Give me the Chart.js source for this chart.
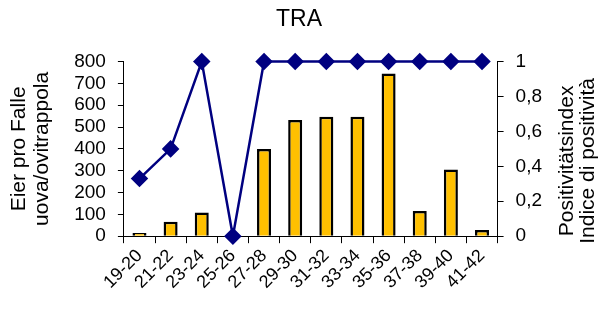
<!DOCTYPE html>
<html>
<head>
<meta charset="utf-8">
<script src="https://cdn.jsdelivr.net/npm/chart.js@4/dist/chart.umd.min.js"></script>
<style>
  html, body { margin: 0; padding: 0; background: #fff; }
  #wrap { width: 598px; height: 309px; }
</style>
</head>
<body>
<div id="wrap"><canvas id="chart"></canvas></div>
<script>
  // Zeitraum (Wochen) / periodo (settimane)
  const categories = ['19-20', '21-22', '23-24', '25-26', '27-28', '29-30',
                      '31-32', '33-34', '35-36', '37-38', '39-40', '41-42'];

  // Eier pro Falle (Balken, linke Achse)
  const eggsPerTrap = [15, 66, 109, 0, 400, 532, 547, 547, 746, 115, 306, 28];

  // Positivitätsindex (Linie, rechte Achse)
  const positivity = [0.33, 0.5, 1, 0, 1, 1, 1, 1, 1, 1, 1, 1];

  const leftTitle = ['Eier pro Falle', 'uova/ovitrappola'];
  const rightTitle = ['Positivitätsindex', 'Indice di positività'];

  const FONT = "'Liberation Sans', Arial, sans-serif";
  Chart.defaults.font.family = FONT;
  Chart.defaults.color = '#000';

  // Titel der rechten Achse von unten nach oben lesbar zeichnen
  const rightTitlePlugin = {
    id: 'rightTitle',
    afterDraw(chart) {
      const s = chart.scales.y1;
      const ctx = chart.ctx;
      const cy = (chart.chartArea.top + chart.chartArea.bottom) / 2 + 12;
      ctx.save();
      ctx.font = '21px ' + FONT;
      ctx.fillStyle = '#000';
      ctx.textAlign = 'center';
      ctx.textBaseline = 'middle';
      rightTitle.forEach((line, i) => {
        ctx.save();
        ctx.translate(s.left + 70 + i * 21, cy);
        ctx.rotate(-Math.PI / 2);
        ctx.fillText(line, 0, 0);
        ctx.restore();
      });
      ctx.restore();
    }
  };

  new Chart(document.getElementById('chart'), {
    type: 'bar',
    data: {
      labels: categories,
      datasets: [
        {
          type: 'line',
          label: 'Positivitätsindex',
          data: positivity,
          yAxisID: 'y1',
          borderColor: '#000080',
          backgroundColor: '#000080',
          borderWidth: 2.5,
          pointStyle: 'rectRot',
          pointRadius: 7,
          pointHoverRadius: 7,
          tension: 0,
          clip: false,
          order: 1
        },
        {
          type: 'bar',
          label: 'Eier pro Falle',
          data: eggsPerTrap,
          yAxisID: 'y',
          backgroundColor: '#FFC000',
          borderColor: '#000',
          borderWidth: 2.5,
          barPercentage: 0.45,
          categoryPercentage: 1,
          order: 2
        }
      ]
    },
    options: {
      responsive: true,
      maintainAspectRatio: false,
      animation: false,
      layout: { padding: { left: 0, right: 0, top: 0, bottom: 14 } },
      plugins: {
        legend: { display: false },
        tooltip: { enabled: false },
        title: {
          display: true,
          text: 'TRA',
          font: { size: 23, weight: 'normal' },
          color: '#000',
          padding: { top: 6, bottom: 28 }
        }
      },
      scales: {
        x: {
          offset: true,
          grid: { display: true, drawOnChartArea: false, drawTicks: true, tickLength: 7, color: '#000', offset: true },
          border: { display: true, color: '#000', width: 1 },
          ticks: { font: { size: 18 }, color: '#000', maxRotation: 45, minRotation: 45, padding: 2, autoSkip: false }
        },
        y: {
          position: 'left',
          min: 0,
          max: 800,
          grid: { display: true, drawOnChartArea: false, drawTicks: true, tickLength: 6, color: '#000' },
          border: { display: true, color: '#000', width: 1 },
          ticks: { stepSize: 100, font: { size: 19 }, color: '#000', padding: 12, autoSkip: false },
          title: {
            display: true,
            text: leftTitle,
            font: { size: 21, lineHeight: 1.1 },
            color: '#000',
            padding: { top: 8, bottom: 8 }
          }
        },
        y1: {
          position: 'right',
          min: 0,
          max: 1,
          afterFit: s => { s.width += 44; },
          grid: { display: true, drawOnChartArea: false, drawTicks: true, tickLength: 6, color: '#000' },
          border: { display: true, color: '#000', width: 1 },
          ticks: {
            stepSize: 0.2,
            font: { size: 19 },
            color: '#000',
            padding: 12,
            autoSkip: false,
            callback: v => String(Math.round(v * 10) / 10).replace('.', ',')
          }
        }
      }
    },
    plugins: [rightTitlePlugin]
  });
</script>
</body>
</html>
